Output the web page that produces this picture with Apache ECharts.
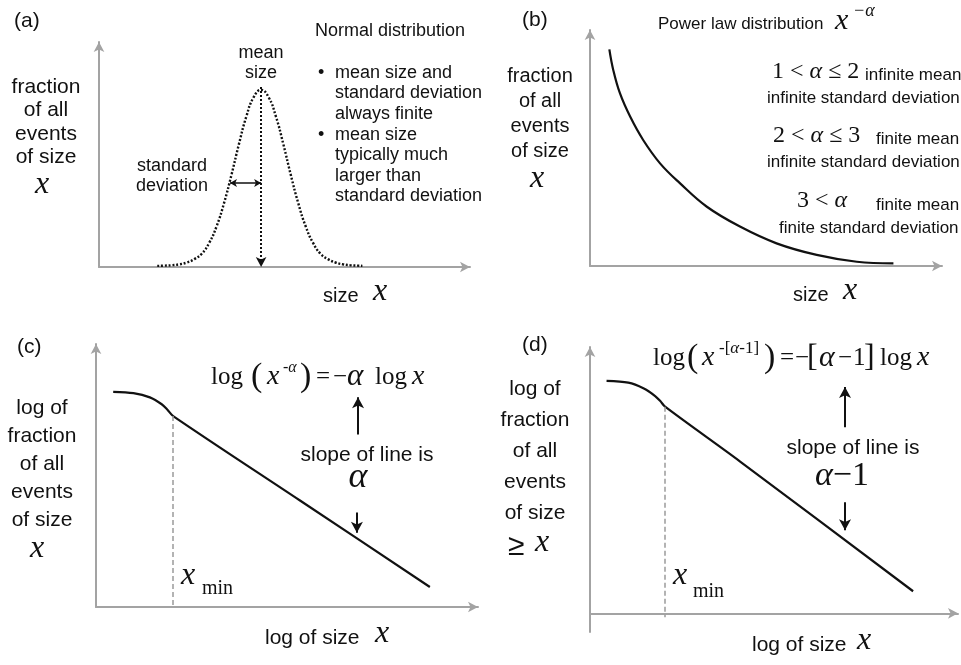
<!DOCTYPE html>
<html><head><meta charset="utf-8">
<script src="https://cdn.jsdelivr.net/npm/echarts@6/dist/echarts.min.js"></script>
<style>html,body{margin:0;padding:0;background:#fff}#c{width:961px;height:665px}</style>
</head><body><div id="c"></div>
<script>
// ---------- data (axis units 0..100) ----------
const normalX = [15.7,17.7,19.7,21.7,23.7,25.7,27.7,29.7,31.7,33.7,35.7,37.7,39.7,41.7,43.7,45.7,47.7,49.7,51.7,53.7,55.7,57.7,59.7,61.7,63.7,65.7,67.7,69.7,71.0];
const normalY = [0.5,0.6,0.8,1.2,2.0,3.5,5.9,10.7,18.1,28.4,40.9,54.5,66.8,75.5,78.7,75.5,66.8,54.5,40.9,28.4,18.1,10.7,5.9,3.5,2.0,1.2,0.8,0.6,0.5];
const meanSize = 43.7, meanTop = 80, sdLeft = 35.3, sdLevel = 37.3;

const powerX = [5.5,6.6,8.5,11.4,15.1,19.9,25.6,33.2,42.6,53.0,64.4,75.8,86.2];
const powerY = [91.8,83.1,73.2,63.3,53.4,43.5,35.0,25.1,16.7,9.6,4.7,1.8,1.1];

const logPdfX = [4.5,9.8,14.1,17.2,18.7,20.2,53.4,87.4];
const logPdfY = [81.8,81.3,79.7,77.1,75.0,72.6,40.5,7.6];
const xminC = 20.2, xminCY = 72.6;

const logCcdfX = [4.5,10.4,14.5,17.7,19.1,20.4,40.8,87.8];
const logCcdfY = [87.3,86.6,84.5,81.6,79.7,77.6,57.0,8.3];
const xminD = 20.4, xminDY = 77.6;

const zip = (a, b) => a.map((v, i) => [v, b[i]]);

// ---------- styles ----------
const SANS = '"Liberation Sans", Arial, sans-serif';
const SERIF = '"Liberation Serif", "Times New Roman", serif';
const INK = '#111';
const AXIS = '#a3a3a3';

const grids = [
  {left: 99, top: 42, width: 371, height: 225},
  {left: 590, top: 30, width: 352, height: 236},
  {left: 96, top: 344, width: 382, height: 263},
  {left: 590, top: 347, width: 368, height: 285}
];
const axisBase = (i, min) => ({
  gridIndex: i, type: 'value', min: min, max: 100,
  axisLine: {show: true, onZero: true, symbol: ['none', 'arrow'], symbolSize: [8, 10],
             lineStyle: {color: AXIS, width: 2}},
  axisTick: {show: false}, axisLabel: {show: false}, splitLine: {show: false}
});

const arrowLine = (x1, y1, x2, y2, extra) => [
  Object.assign({coord: [x1, y1], symbol: 'none'}, extra && extra.start),
  Object.assign({coord: [x2, y2], symbol: 'arrow'}, extra && extra.end)
];
const blackArrow = {color: INK, width: 2, type: 'solid'};
const dashedGray = {color: '#9a9a9a', width: 1.5, type: [5, 3]};

// ---------- text helpers ----------
function T(text, x, y, size, o) {
  o = o || {};
  const fam = o.serif ? SERIF : SANS;
  return {
    type: 'text', x: x, y: y, silent: true,
    style: {
      text: text, fill: INK,
      font: (o.italic ? 'italic ' : '') + size + 'px ' + fam,
      textAlign: o.align || 'left', textVerticalAlign: 'middle',
      lineHeight: o.lh || undefined
    }
  };
}
function R(text, x, y, size, o) {
  o = o || {};
  return {
    type: 'text', x: x, y: y, silent: true,
    style: {
      text: text, fill: INK, textAlign: o.align || 'left', textVerticalAlign: 'middle',
      font: size + 'px ' + SERIF,
      rich: {
        n: {font: size + 'px ' + SERIF, fill: INK},
        i: {font: 'italic ' + size + 'px ' + SERIF, fill: INK}
      }
    }
  };
}
const X = (x, y, size, align) => T('x', x, y, size || 32, {serif: true, italic: true, align: align});

const texts = [
  // panel a
  T('(a)', 14, 21, 21),
  T('fraction\nof all\nevents\nof size', 46, 122, 21, {align: 'center', lh: 23.5}),
  X(42, 185, 32, 'center'),
  T('mean\nsize', 261, 63, 18, {align: 'center', lh: 20}),
  T('standard\ndeviation', 172, 176, 18, {align: 'center', lh: 20}),
  T('Normal distribution', 315, 31, 18),
  T('•', 318, 73, 18), T('mean size and', 335, 73, 18), T('standard deviation', 335, 93, 18),
  T('always finite', 335, 114, 18),
  T('•', 318, 135, 18), T('mean size', 335, 135, 18), T('typically much', 335, 155, 18),
  T('larger than', 335, 176, 18), T('standard deviation', 335, 196, 18),
  T('size', 323, 296, 20), X(373, 292),
  // panel b
  T('(b)', 522, 20, 21),
  T('Power law distribution', 658, 24, 17),
  T('x', 835, 21, 30, {serif: true, italic: true}),
  T('−α', 853, 11, 18, {serif: true, italic: true}),
  T('fraction\nof all\nevents\nof size', 540, 113.5, 20, {align: 'center', lh: 25}),
  X(537, 179, 32, 'center'),
  R('{n|1 < }{i|α}{n| ≤ 2}', 772, 72, 24),
  T('infinite mean', 865, 75, 17),
  T('infinite standard deviation', 767, 98, 17),
  R('{n|2 < }{i|α}{n| ≤ 3}', 773, 136, 24),
  T('finite mean', 876, 139, 17),
  T('infinite standard deviation', 767, 162, 17),
  R('{n|3 < }{i|α}', 797, 201, 24),
  T('finite mean', 876, 205, 17),
  T('finite standard deviation', 779, 228, 17),
  T('size', 793, 295, 20), X(843, 291),
  // panel c
  T('(c)', 17, 347, 21),
  T('log of\nfraction\nof all\nevents\nof size', 42, 464, 21, {align: 'center', lh: 28}),
  X(37, 549, 32, 'center'),
  X(181, 576), T('min', 202, 589, 20, {serif: true}),
  T('log', 211, 377, 25, {serif: true}), T('(', 251, 377, 34, {serif: true}),
  T('x', 267, 377, 28, {serif: true, italic: true}), T('-α', 283, 368, 16, {serif: true, italic: true}),
  T(')', 300, 377, 34, {serif: true}), T('=', 316, 377, 25, {serif: true}),
  T('−', 333, 377, 25, {serif: true}), T('α', 347, 377, 31, {serif: true, italic: true}),
  T('log', 375, 377, 25, {serif: true}), T('x', 412, 377, 28, {serif: true, italic: true}),
  T('slope of line is', 367, 455, 21, {align: 'center'}),
  T('α', 358, 478, 36, {serif: true, italic: true, align: 'center'}),
  T('log of size', 265, 638, 21), X(375, 634),
  // panel d
  T('(d)', 522, 345, 21),
  T('log of\nfraction\nof all\nevents\nof size', 535, 451.5, 21, {align: 'center', lh: 31}),
  T('≥', 508, 547, 30), X(535, 543),
  X(673, 576), T('min', 693, 592, 20, {serif: true}),
  T('log', 653, 358, 25, {serif: true}), T('(', 687, 358, 34, {serif: true}),
  T('x', 702, 358, 28, {serif: true, italic: true}),
  R('{n|-[}{i|α}{n|-1]}', 719, 349, 17),
  T(')', 764, 358, 34, {serif: true}), T('=', 780, 358, 25, {serif: true}),
  T('−', 795, 358, 25, {serif: true}), T('[', 807, 358, 32, {serif: true}),
  T('α', 819, 358, 30, {serif: true, italic: true}), T('−', 838, 358, 25, {serif: true}),
  T('1', 853, 358, 25, {serif: true}), T(']', 864, 358, 32, {serif: true}),
  T('log', 880, 358, 25, {serif: true}), T('x', 917, 358, 28, {serif: true, italic: true}),
  T('slope of line is', 853, 448, 21, {align: 'center'}),
  R('{i|α}{n|−1}', 815, 476, 34),
  T('log of size', 752, 645, 21), X(857, 641)
];

const chart = echarts.init(document.getElementById('c'), null, {renderer: 'canvas'});
chart.setOption({
  animation: false,
  backgroundColor: '#fff',
  grid: grids,
  xAxis: [0, 1, 2, 3].map(i => axisBase(i, 0)),
  yAxis: [0, 1, 2, 3].map(i => axisBase(i, i === 3 ? -7 : 0)),
  series: [
    {
      type: 'line', xAxisIndex: 0, yAxisIndex: 0, data: zip(normalX, normalY),
      smooth: true, symbol: 'none', silent: true,
      lineStyle: {color: INK, width: 2.4, type: [2, 1.8]},
      markLine: {
        silent: true, label: {show: false}, symbolSize: [8, 10],
        data: [
          arrowLine(meanSize, meanTop, meanSize, 0, {start: {lineStyle: {color: INK, width: 2, type: [2, 2]}}}),
          [{coord: [sdLeft, sdLevel], symbol: 'arrow', symbolSize: [6, 7], lineStyle: {color: INK, width: 1.5, type: 'solid'}},
           {coord: [meanSize, sdLevel], symbol: 'arrow', symbolSize: [6, 7]}]
        ]
      }
    },
    {
      type: 'line', xAxisIndex: 1, yAxisIndex: 1, data: zip(powerX, powerY),
      smooth: 0.4, symbol: 'none', silent: true,
      lineStyle: {color: INK, width: 2.2}
    },
    {
      type: 'line', xAxisIndex: 2, yAxisIndex: 2, data: zip(logPdfX, logPdfY),
      smooth: 0.3, symbol: 'none', silent: true,
      lineStyle: {color: INK, width: 2.2},
      markLine: {
        silent: true, label: {show: false}, symbolSize: [9, 11],
        data: [
          [{coord: [xminC, xminCY], symbol: 'none', lineStyle: dashedGray}, {coord: [xminC, 0], symbol: 'none'}],
          arrowLine(68.6, 65.6, 68.6, 79.8, {start: {lineStyle: blackArrow}}),
          arrowLine(68.3, 35.9, 68.3, 28.2, {start: {lineStyle: blackArrow}})
        ]
      }
    },
    {
      type: 'line', xAxisIndex: 3, yAxisIndex: 3, data: zip(logCcdfX, logCcdfY),
      smooth: 0.3, symbol: 'none', silent: true,
      lineStyle: {color: INK, width: 2.2},
      markLine: {
        silent: true, label: {show: false}, symbolSize: [9, 11],
        data: [
          [{coord: [xminD, xminDY], symbol: 'none', lineStyle: dashedGray}, {coord: [xminD, -1.5], symbol: 'none'}],
          arrowLine(69.3, 69.9, 69.3, 85.0, {start: {lineStyle: blackArrow}}),
          arrowLine(69.3, 41.7, 69.3, 31.2, {start: {lineStyle: blackArrow}})
        ]
      }
    }
  ],
  graphic: {elements: texts}
});
</script>
</body></html>
